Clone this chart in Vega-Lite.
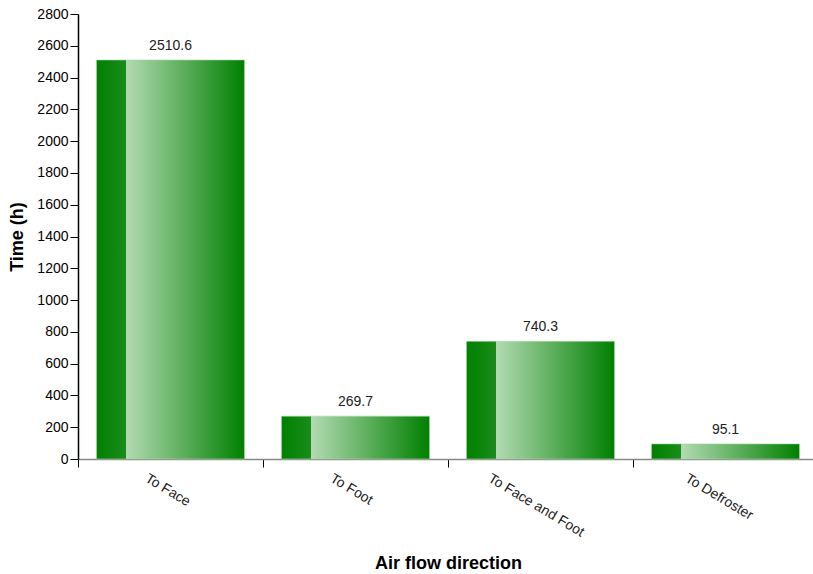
{
  "$schema": "https://vega.github.io/schema/vega-lite/v6.json",
  "width": 740,
  "height": 445,
  "autosize": {"type": "none"},
  "padding": {"left": 78, "top": 14, "right": 0, "bottom": 115},
  "background": "white",
  "config": {"view": {"stroke": null}, "font": "Liberation Sans"},
  "data": {"values": [
    {"direction": "To Face", "time": 2510.6},
    {"direction": "To Foot", "time": 269.7},
    {"direction": "To Face and Foot", "time": 740.3},
    {"direction": "To Defroster", "time": 95.1}
  ]},
  "encoding": {
    "x": {
      "field": "direction", "type": "nominal", "sort": null,
      "scale": {"paddingInner": 0, "paddingOuter": 0},
      "axis": {
        "title": "Air flow direction",
        "titleFont": "Liberation Sans", "titleFontSize": 18, "titleFontWeight": "bold", "titleColor": "#000",
        "titlePadding": 15,
        "labelAngle": 31, "labelAlign": "left", "labelBaseline": "top",
        "labelFontSize": 14, "labelColor": "#222", "labelPadding": 4,
        "labelOffset": {"expr": "-3.0*length(datum.label)"},
        "tickBand": "extent", "tickSize": 8, "tickColor": "#000",
        "domainColor": "#888", "domainWidth": 1.5,
        "labelOverlap": false
      }
    },
    "y": {
      "field": "time", "type": "quantitative",
      "scale": {"domain": [0, 2800], "nice": false},
      "axis": {
        "title": "Time (h)",
        "titleFont": "Liberation Sans", "titleFontSize": 18, "titleFontWeight": "bold", "titleColor": "#000",
        "titlePadding": 10,
        "format": "d",
        "values": [0, 200, 400, 600, 800, 1000, 1200, 1400, 1600, 1800, 2000, 2200, 2400, 2600, 2800],
        "grid": false, "tickSize": 8, "tickColor": "#000", "domainColor": "#000", "domainWidth": 1.5,
        "labelFontSize": 14, "labelColor": "#000", "labelPadding": 2
      }
    }
  },
  "layer": [
    {
      "mark": {
        "type": "bar",
        "width": {"band": 0.8},
        "stroke": "#a8d8a8", "strokeWidth": 0.6,
        "fill": {
          "x1": 0, "y1": 0, "x2": 1, "y2": 0,
          "gradient": "linear",
          "stops": [
            {"offset": 0, "color": "#008000"},
            {"offset": 0.2, "color": "#1a8c1a"},
            {"offset": 0.2, "color": "#b3dab3"},
            {"offset": 1, "color": "#008000"}
          ]
        }
      }
    },
    {
      "mark": {"type": "text", "baseline": "bottom", "dy": -7, "fontSize": 14, "color": "#222"},
      "encoding": {"text": {"field": "time", "type": "quantitative", "format": ".1f"}}
    }
  ]
}
